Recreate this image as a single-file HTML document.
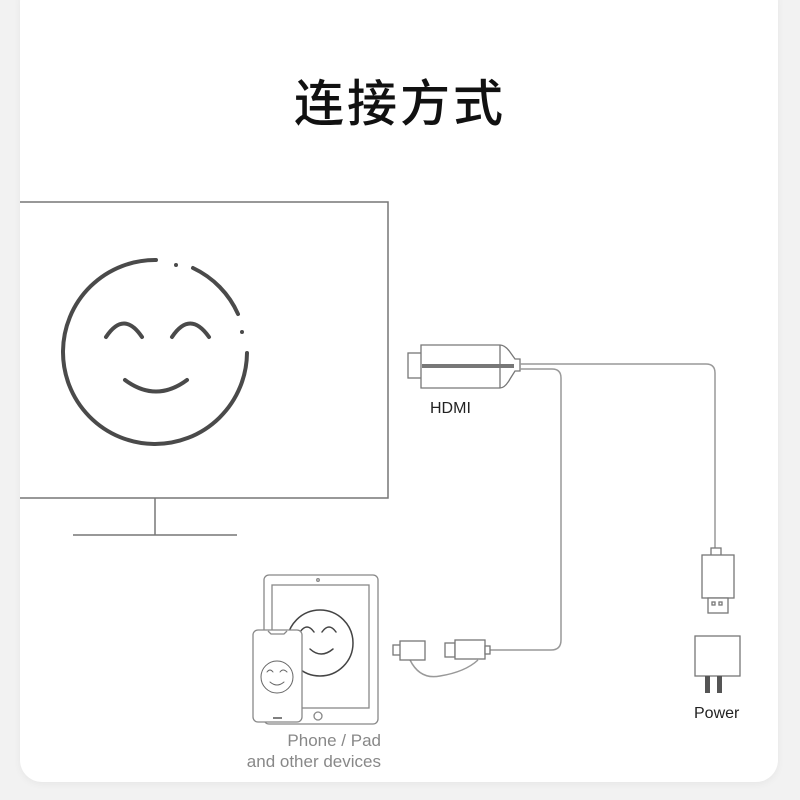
<!DOCTYPE html>
<html><head><meta charset="utf-8"><style>
html,body{margin:0;padding:0;background:#f2f2f2;}
body{width:800px;height:800px;position:relative;overflow:hidden;font-family:"Liberation Sans","Noto Sans CJK SC",sans-serif;}
.card{position:absolute;left:20px;top:-20px;width:758px;height:802px;background:#fff;border-radius:22px;box-shadow:0 2px 8px rgba(0,0,0,0.05);}
.t{position:absolute;white-space:nowrap;}
</style></head><body>
<div class="card"></div>
<div class="t" style="left:0;width:800px;text-align:center;top:64px;font-size:50px;font-weight:500;color:#111;font-family:'Noto Sans CJK SC',sans-serif;letter-spacing:3px;">连接方式</div>
<svg style="position:absolute;left:0;top:0" width="800" height="800" viewBox="0 0 800 800">
<g fill="none" stroke="#777" stroke-width="1.5">
<polyline points="20,202 388,202 388,498 20,498"/>
<line x1="155" y1="498" x2="155" y2="535"/>
<line x1="73" y1="535" x2="237" y2="535"/>
</g>
<g fill="none" stroke="#4a4a4a" stroke-width="4" stroke-linecap="round">
<path d="M156,260 A92,92 0 1 0 247,353"/>
<path d="M193,268 A92,92 0 0 1 238,314"/>
<path d="M106,337 Q124,310 142,337"/>
<path d="M172,337 Q190,310 209,337"/>
<path d="M125,380 Q156,403 187,380"/>
</g>
<circle cx="176" cy="265" r="2" fill="#4a4a4a"/>
<circle cx="242" cy="332" r="2" fill="#4a4a4a"/>
<g fill="#fff" stroke="#777" stroke-width="1.3">
<rect x="408" y="353" width="15" height="25"/>
<path d="M421,345 L500,345 Q505,345 510,352 L515,359 L520,359 L520,371 L515,371 L510,379 Q505,388 500,388 L421,388 Z"/>
<line x1="500" y1="345" x2="500" y2="388"/>
</g>
<rect x="422" y="364" width="92" height="4" fill="#777"/>
<g fill="none" stroke="#999" stroke-width="1.5">
<path d="M520,364 L706,364 Q715,364 715,373 L715,548"/>
<path d="M520,369 L552,369 Q561,369 561,378 L561,640 Q561,650 551,650 L490,650"/>
<path d="M410,660 Q420,680 440,676 Q465,672 478,660"/>
</g>
<g fill="#fff" stroke="#777" stroke-width="1.3">
<rect x="711" y="548" width="10" height="8"/>
<rect x="702" y="555" width="32" height="43"/>
<rect x="708" y="598" width="20" height="15"/>
<rect x="712" y="602" width="3" height="3"/>
<rect x="719" y="602" width="3" height="3"/>
<rect x="695" y="636" width="45" height="40"/>
</g>
<rect x="705" y="676" width="5" height="17" fill="#555"/>
<rect x="717" y="676" width="5" height="17" fill="#555"/>
<g fill="#fff" stroke="#777" stroke-width="1.3">
<rect x="393" y="645" width="8" height="10"/>
<rect x="400" y="641" width="25" height="19"/>
<rect x="445" y="643" width="10" height="14"/>
<rect x="455" y="640" width="30" height="19"/>
<rect x="485" y="646" width="5" height="8"/>
</g>
<g fill="#fff" stroke="#888" stroke-width="1.3">
<rect x="264" y="575" width="114" height="149" rx="5"/>
<rect x="272" y="585" width="97" height="123"/>
<circle cx="318" cy="716" r="4"/>
<circle cx="318" cy="580" r="1.3"/>
</g>
<g fill="none" stroke="#444" stroke-width="1.5" stroke-linecap="round">
<circle cx="320" cy="643" r="33"/>
<path d="M300,632 Q307,622 314,632"/>
<path d="M322,632 Q329,622 336,632"/>
<path d="M310,649 Q321,659 333,649"/>
</g>
<g fill="#fff" stroke="#888" stroke-width="1.3">
<rect x="253" y="630" width="49" height="92" rx="5"/>
<path d="M268,631 L271,634 L284,634 L287,631"/>
</g>
<line x1="273" y1="718" x2="282" y2="718" stroke="#555" stroke-width="1.5"/>
<g fill="none" stroke="#666" stroke-width="1" stroke-linecap="round">
<circle cx="277" cy="677" r="16"/>
<path d="M267,672 Q270,668 273,672"/>
<path d="M280,672 Q283,668 287,672"/>
<path d="M270,682 Q277,688 284,682"/>
</g>
</svg>
<div class="t" style="left:430px;top:400px;font-size:16px;color:#222;">HDMI</div>
<div class="t" style="left:694px;top:705px;font-size:16px;color:#222;">Power</div>
<div class="t" style="right:419px;top:730px;font-size:17px;color:#888;text-align:right;line-height:21px;">Phone / Pad<br>and other devices</div>
</body></html>
